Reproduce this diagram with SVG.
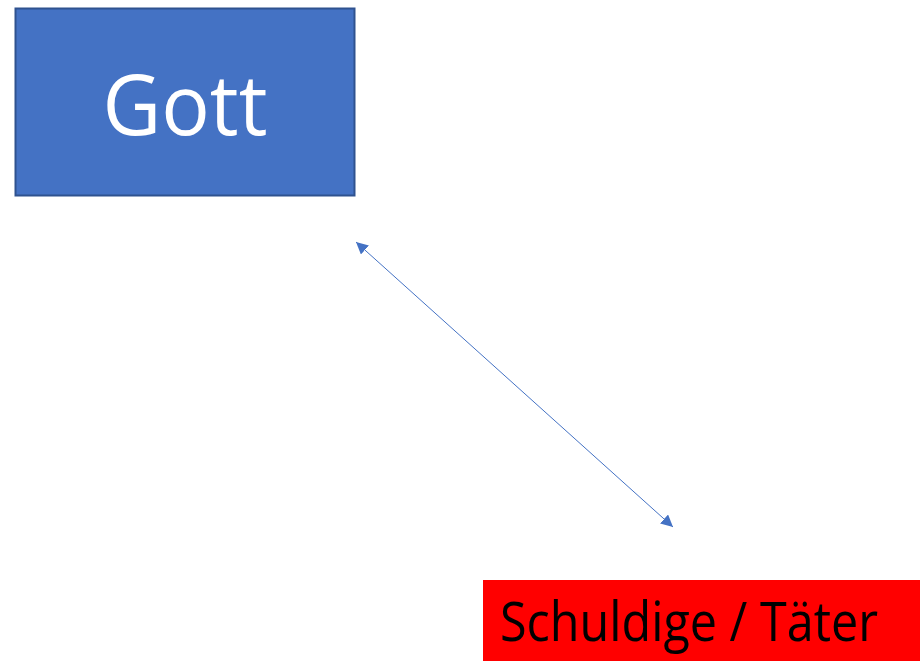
<svg xmlns="http://www.w3.org/2000/svg" width="920" height="661" viewBox="0 0 920 661">
  <style>
    .lbl { font-family: "Open Sans", "Liberation Sans", sans-serif; }
    .link { stroke: #4472C4; stroke-width: 1; fill: none; }
  </style>
  <defs>
    <marker id="head" viewBox="0 0 10 10" refX="10" refY="5" markerWidth="12" markerHeight="12" markerUnits="userSpaceOnUse" orient="auto-start-reverse">
      <path d="M0,0 L10,5 L0,10 Z" fill="#4472C4"/>
    </marker>
  </defs>
  <rect width="920" height="661" fill="#ffffff"/>
  <g id="connectors">
    <line class="link" x1="356" y1="242" x2="673" y2="527" marker-start="url(#head)" marker-end="url(#head)"/>
  </g>
  <g id="gott">
    <rect x="15.5" y="8.5" width="339" height="187" fill="#4472C4" stroke="#2F528F" stroke-width="2"/>
    <text class="lbl" x="185" y="135" font-size="84" fill="#ffffff" text-anchor="middle" textLength="165" lengthAdjust="spacingAndGlyphs">Gott</text>
  </g>
  <g id="taeter">
    <rect x="483" y="580" width="437" height="81" fill="#FF0000"/>
    <text class="lbl" x="500" y="641" font-size="54" fill="#000000" textLength="378" lengthAdjust="spacingAndGlyphs">Schuldige / Täter</text>
  </g>
</svg>
